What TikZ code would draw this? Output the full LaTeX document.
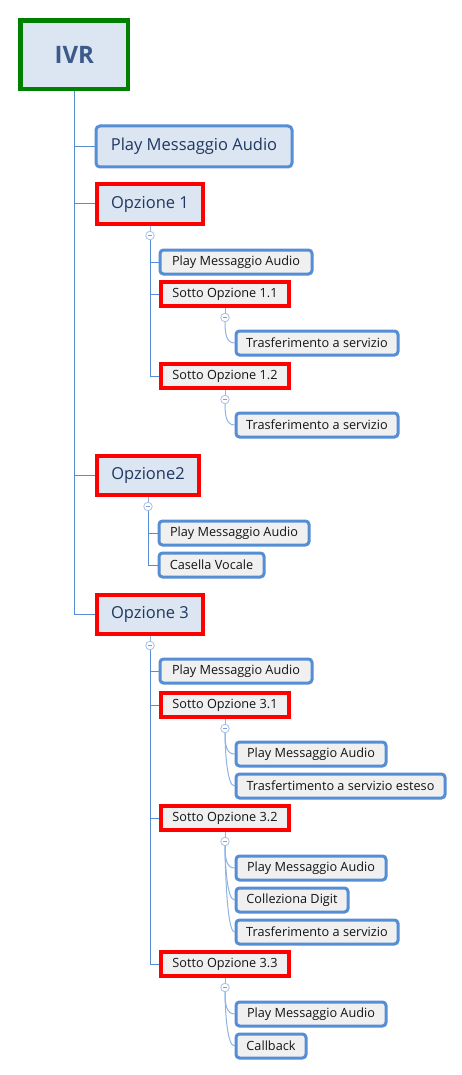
\documentclass[tikz,border=0pt]{standalone}
\usepackage{fontspec}
\setmainfont{Open Sans}
\usetikzlibrary{backgrounds}
\definecolor{bordblue}{RGB}{85,142,213}
\definecolor{fillone}{RGB}{220,230,242}
\definecolor{filltwo}{RGB}{240,240,240}
\definecolor{txtone}{RGB}{31,56,96}
\definecolor{txtroot}{RGB}{59,90,138}
\definecolor{txttwo}{RGB}{20,20,20}
\definecolor{curvecol}{RGB}{142,180,227}
\definecolor{markcol}{RGB}{166,192,232}
\definecolor{minuscol}{RGB}{124,159,214}
\definecolor{rootgreen}{RGB}{0,128,0}
\tikzset{
  nbox/.style={anchor=north west, inner sep=0pt, align=center},
  rootbox/.style={nbox, draw=rootgreen, line width=4.5pt, fill=fillone, text=txtroot, font=\fontsize{24}{28}\selectfont\bfseries},
  oneblue/.style={nbox, draw=bordblue, line width=3pt, rounded corners=4pt, fill=fillone, text=txtone, font=\fontsize{16.5}{20}\selectfont},
  onered/.style={nbox, draw=red, line width=4pt, fill=fillone, text=txtone, font=\fontsize{16.5}{20}\selectfont},
  twoblue/.style={nbox, draw=bordblue, line width=3pt, rounded corners=3.5pt, fill=filltwo, text=txttwo, font=\fontsize{12.7}{15}\selectfont},
  twored/.style={nbox, draw=red, line width=4pt, fill=filltwo, text=txttwo, font=\fontsize{12.7}{15}\selectfont},
  trunk/.style={draw=bordblue, line width=1pt},
  curvy/.style={draw=curvecol, line width=1pt},
  marker/.style={circle, draw=markcol, line width=0.8pt, fill=white, minimum size=8.5pt, inner sep=0pt,
    path picture={\draw[minuscol, line width=0.8pt] ([xshift=-2.2pt]path picture bounding box.center) -- ([xshift=2.2pt]path picture bounding box.center);}}
}
\begin{document}
\begin{tikzpicture}[x=1pt,y=-1pt]
\useasboundingbox (0,0) rectangle (462,1075);

% root and level 1
\node[rootbox, minimum width=107.5pt, minimum height=68.5pt] (root) at (18.25,18.25) {IVR};
\node[oneblue, minimum width=196pt, minimum height=41pt] (p1) at (94.5,124.5) {Play Messaggio Audio};
\node[onered, minimum width=106pt, minimum height=40pt] (o1) at (95,182) {Opzione 1};
\node[onered, minimum width=102pt, minimum height=39pt] (o2) at (95,454) {Opzione2};
\node[onered, minimum width=106pt, minimum height=39pt] (o3) at (95,593) {Opzione 3};

% children of Opzione 1
\node[twoblue, minimum width=152pt, minimum height=24pt] (o1a) at (158.5,248.5) {Play Messaggio Audio};
\node[twored, minimum width=128pt, minimum height=24pt] (s11) at (159,280) {Sotto Opzione 1.1};
\node[twored, minimum width=128pt, minimum height=24pt] (s12) at (159,362) {Sotto Opzione 1.2};
\node[twoblue, minimum width=162pt, minimum height=24pt] (t11) at (234.5,329.5) {Trasferimento a servizio};
\node[twoblue, minimum width=162pt, minimum height=24pt] (t12) at (234.5,411.5) {Trasferimento a servizio};

% children of Opzione2
\node[twoblue, minimum width=150pt, minimum height=24pt] (o2a) at (157.5,519.5) {Play Messaggio Audio};
\node[twoblue, minimum width=105pt, minimum height=24pt] (o2b) at (157.5,551.5) {Casella Vocale};

% children of Opzione 3
\node[twoblue, minimum width=152pt, minimum height=24pt] (o3a) at (158.5,657.5) {Play Messaggio Audio};
\node[twored, minimum width=128pt, minimum height=24pt] (s31) at (159,691) {Sotto Opzione 3.1};
\node[twored, minimum width=128pt, minimum height=24pt] (s32) at (159,804) {Sotto Opzione 3.2};
\node[twored, minimum width=128pt, minimum height=24pt] (s33) at (159,950) {Sotto Opzione 3.3};
\node[twoblue, minimum width=150pt, minimum height=24pt] (t31a) at (234.5,740.5) {Play Messaggio Audio};
\node[twoblue, minimum width=209pt, minimum height=24pt] (t31b) at (234.5,772.5) {Trasfertimento a servizio esteso};
\node[twoblue, minimum width=150pt, minimum height=24pt] (t32a) at (234.5,854.5) {Play Messaggio Audio};
\node[twoblue, minimum width=112pt, minimum height=24pt] (t32b) at (234.5,886.5) {Colleziona Digit};
\node[twoblue, minimum width=162pt, minimum height=24pt] (t32c) at (234.5,918.5) {Trasferimento a servizio};
\node[twoblue, minimum width=150pt, minimum height=24pt] (t33a) at (234.5,1000.5) {Play Messaggio Audio};
\node[twoblue, minimum width=70pt, minimum height=24pt] (t33b) at (234.5,1032.5) {Callback};

% collapse markers
\node[marker] (m1) at ([yshift=-9.5pt]o1.south) {};
\node[marker] (m11) at ([yshift=-9.5pt]s11.south) {};
\node[marker] (m12) at ([yshift=-9.5pt]s12.south) {};
\node[marker] (m2) at ([yshift=-9.5pt]o2.south) {};
\node[marker] (m3) at ([yshift=-9.5pt]o3.south) {};
\node[marker] (m31) at ([yshift=-9.5pt]s31.south) {};
\node[marker] (m32) at ([yshift=-9.5pt]s32.south) {};
\node[marker] (m33) at ([yshift=-9.5pt]s33.south) {};

\begin{pgfonlayer}{background}
\fill[white] (0,0) rectangle (462,1075);
% root trunk
\draw[trunk] (root.south) |- (o3.west);
\draw[trunk] (root.south |- p1.west) -- (p1.west);
\draw[trunk] (root.south |- o1.west) -- (o1.west);
\draw[trunk] (root.south |- o2.west) -- (o2.west);
% marker stubs
\foreach \p/\m in {o1/m1,s11/m11,s12/m12,o2/m2,o3/m3,s31/m31,s32/m32,s33/m33}
  \draw[curvy] (\p.south) -- (\m.north);
% Opzione 1 group
\draw[trunk] (m1.south) |- (s12.west);
\draw[trunk] (m1.south |- o1a.west) -- (o1a.west);
\draw[trunk] (m1.south |- s11.west) -- (s11.west);
% Opzione2 group
\draw[trunk] (m2.south) |- (o2b.west);
\draw[trunk] (m2.south |- o2a.west) -- (o2a.west);
% Opzione 3 group
\draw[trunk] (m3.south) |- (s33.west);
\draw[trunk] (m3.south |- o3a.west) -- (o3a.west);
\draw[trunk] (m3.south |- s31.west) -- (s31.west);
\draw[trunk] (m3.south |- s32.west) -- (s32.west);
% level 3 curves
\foreach \m/\c in {m11/t11,m12/t12,m31/t31a,m31/t31b,m32/t32a,m32/t32b,m32/t32c,m33/t33a,m33/t33b}
  \draw[curvy] (\m.south) .. controls +(0,12) and +(-8,0) .. (\c.west);
\end{pgfonlayer}
\end{tikzpicture}
\end{document}
